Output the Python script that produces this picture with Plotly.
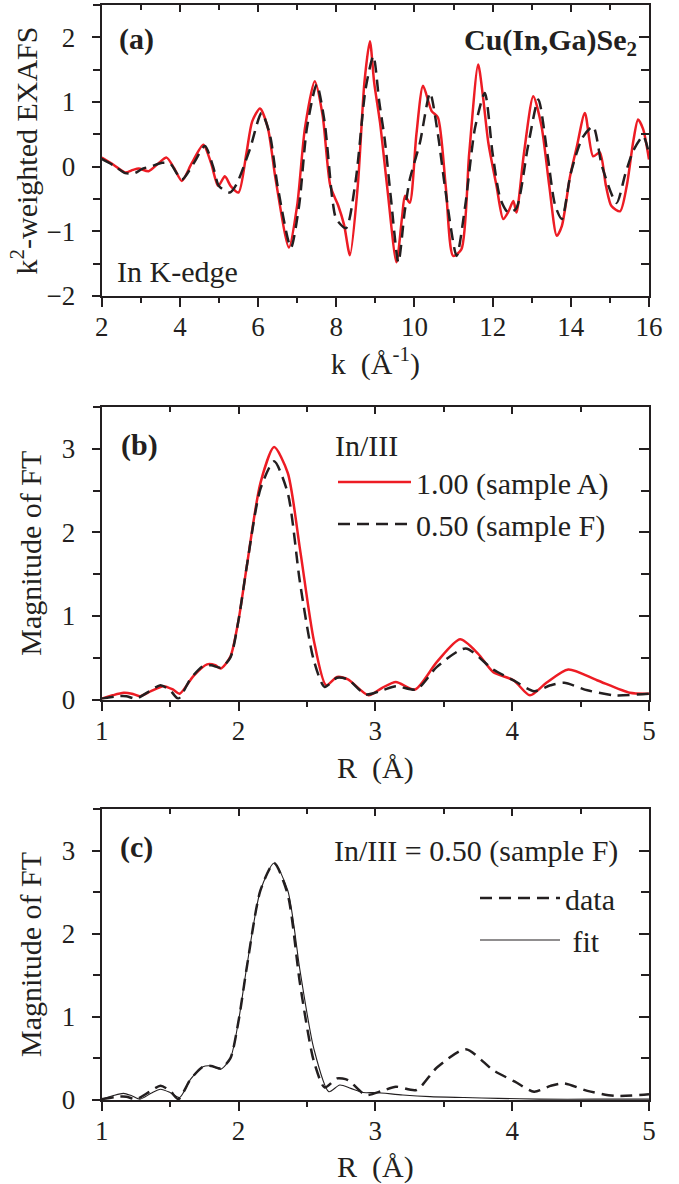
import plotly.graph_objects as go

# ---------------- data ----------------
# (a) k^2-weighted EXAFS, In K-edge
k_A = [2.0, 2.3, 2.6, 2.8, 2.95, 3.2, 3.45, 3.66, 3.85, 4.05, 4.3, 4.6, 4.8, 4.98, 5.15, 5.3, 5.5,
       5.7, 5.85, 6.05, 6.25, 6.45, 6.79, 7.0, 7.2, 7.45, 7.65, 7.85, 8.05, 8.2, 8.35, 8.55, 8.72,
       8.86, 8.97, 9.12, 9.3, 9.54, 9.68, 9.76, 9.88, 10.05, 10.22, 10.44, 10.6, 10.8, 10.99, 11.2,
       11.4, 11.63, 11.75, 11.89, 12.1, 12.27, 12.4, 12.53, 12.61, 12.8, 13.04, 13.25, 13.45, 13.64,
       13.77, 13.98, 14.15, 14.36, 14.57, 14.74, 14.9, 15.04, 15.26, 15.43, 15.6, 15.72, 15.85, 16.0]
chi_A = [0.14, 0.03, -0.09, -0.05, -0.03, -0.07, 0.05, 0.14, -0.02, -0.22, 0.05, 0.34, 0.05, -0.30,
         -0.15, -0.30, -0.40, 0.20, 0.70, 0.90, 0.60, -0.20, -1.25, -0.60, 0.60, 1.32, 0.80, -0.30,
         -0.60, -0.90, -1.37, -0.30, 1.30, 1.94, 1.30, 0.68, -0.30, -1.48, -0.80, -0.45, -0.56, 0.50,
         1.25, 0.86, 0.76, -0.30, -1.38, -1.28, 0.20, 1.58, 1.10, 0.37, -0.30, -0.81, -0.70, -0.53,
         -0.71, 0.20, 1.09, 0.63, -0.30, -1.07, -0.92, -0.15, 0.30, 0.83, 0.16, 0.22, -0.30, -0.61,
         -0.69, -0.30, 0.40, 0.73, 0.58, 0.11]

k_F = [2.0, 2.3, 2.6, 2.85, 3.05, 3.24, 3.55, 3.75, 4.05, 4.35, 4.64, 4.85, 5.0, 5.28, 5.45, 5.79,
       6.09, 6.3, 6.5, 6.84, 7.05, 7.25, 7.5, 7.7, 7.9, 8.0, 8.25, 8.5, 8.75, 8.95, 9.1, 9.24, 9.4,
       9.59, 9.75, 9.88, 10.14, 10.4, 10.6, 10.8, 11.08, 11.3, 11.55, 11.8, 12.0, 12.2, 12.4, 12.6,
       12.9, 13.17, 13.4, 13.6, 13.77, 14.0, 14.3, 14.57, 14.8, 15.17, 15.4, 15.6, 15.85, 16.0]
chi_F = [0.12, 0.02, -0.10, -0.10, -0.03, 0.0, 0.06, 0.05, -0.20, 0.05, 0.32, 0.0, -0.30, -0.40,
         -0.27, 0.27, 0.83, 0.50, -0.30, -1.25, -0.60, 0.60, 1.27, 0.70, -0.50, -0.81, -0.95, -0.20,
         1.20, 1.71, 1.00, 0.42, -0.50, -1.48, -0.70, -0.20, 0.37, 1.14, 0.50, -0.40, -1.38, -0.60,
         0.60, 1.14, 0.20, -0.50, -0.71, -0.65, 0.30, 1.04, 0.20, -0.60, -0.81, -0.10, 0.45, 0.62,
         0.0, -0.56, -0.10, 0.25, 0.47, 0.20]

# (b) magnitude of FT
R_A = [1.0, 1.08, 1.16, 1.22, 1.28, 1.36, 1.45, 1.52, 1.57, 1.67, 1.77, 1.83, 1.87, 1.94, 2.0, 2.06,
       2.16, 2.26, 2.36, 2.45, 2.55, 2.64, 2.72, 2.8, 2.95, 3.05, 3.15, 3.29, 3.45, 3.62, 3.75, 3.86,
       4.01, 4.13, 4.25, 4.41, 4.62, 4.86, 5.0]
ft_A = [0.01, 0.05, 0.08, 0.07, 0.04, 0.10, 0.16, 0.12, 0.07, 0.28, 0.42, 0.41, 0.37, 0.51, 0.95,
        1.59, 2.59, 3.02, 2.71, 1.79, 0.71, 0.17, 0.27, 0.24, 0.05, 0.14, 0.21, 0.12, 0.45, 0.72,
        0.55, 0.33, 0.23, 0.05, 0.20, 0.36, 0.23, 0.08, 0.07]

R_F = [1.0, 1.12, 1.18, 1.25, 1.35, 1.43, 1.5, 1.56, 1.65, 1.74, 1.8, 1.87, 1.94, 2.0, 2.06, 2.16,
       2.26, 2.36, 2.45, 2.55, 2.63, 2.72, 2.8, 2.93, 3.05, 3.15, 3.3, 3.45, 3.66, 3.86, 4.02, 4.16,
       4.28, 4.38, 4.55, 4.75, 5.0]
ft_F = [0.01, 0.04, 0.04, 0.01, 0.10, 0.17, 0.11, 0.01, 0.25, 0.40, 0.41, 0.38, 0.50, 0.95, 1.59,
        2.52, 2.85, 2.47, 1.39, 0.47, 0.15, 0.26, 0.24, 0.06, 0.11, 0.16, 0.12, 0.39, 0.61, 0.36,
        0.22, 0.10, 0.17, 0.20, 0.11, 0.05, 0.07]

# (c) fit for sample F
R_fit = [1.0, 1.08, 1.16, 1.22, 1.28, 1.36, 1.43, 1.5, 1.57, 1.65, 1.74, 1.8, 1.87, 1.94, 2.0, 2.06,
         2.16, 2.26, 2.36, 2.45, 2.55, 2.66, 2.74, 2.82, 2.91, 3.0, 3.2, 3.4, 3.65, 3.9, 4.2, 4.6, 5.0]
ft_fit = [0.01, 0.05, 0.08, 0.05, 0.01, 0.08, 0.13, 0.09, 0.03, 0.25, 0.40, 0.41, 0.37, 0.50, 0.95,
          1.60, 2.52, 2.85, 2.52, 1.55, 0.62, 0.10, 0.18, 0.14, 0.09, 0.09, 0.06, 0.04, 0.03, 0.02,
          0.01, 0.01, 0.01]

names_b = ["1.00 (sample A)", "0.50 (sample F)"]
names_c = ["data", "\u00a0fit"]

# ---------------- style ----------------
FONT = "'Times New Roman', 'Liberation Serif', Times, serif"
RED = "#ed1c24"
BLK = "#231f20"
W, H = 679, 1184
XD = [101.7 / W, 649.0 / W]
YD = {
    "a": [1 - 296.0 / H, 1 - 5.0 / H],
    "b": [1 - 699.5 / H, 1 - 407.0 / H],
    "c": [1 - 1100.0 / H, 1 - 809.0 / H],
}
DASH = "12px,7px"

fig = go.Figure()

spl = dict(shape="spline", smoothing=0.7)
fig.add_trace(go.Scatter(x=k_A, y=chi_A, mode="lines", line=dict(color=RED, width=2.5, **spl),
                         xaxis="x", yaxis="y", showlegend=False, hoverinfo="skip"))
fig.add_trace(go.Scatter(x=k_F, y=chi_F, mode="lines", line=dict(color=BLK, width=2.5, dash=DASH, **spl),
                         xaxis="x", yaxis="y", showlegend=False, hoverinfo="skip"))

fig.add_trace(go.Scatter(x=R_A, y=ft_A, mode="lines", name=names_b[0], legend="legend",
                         line=dict(color=RED, width=2.5, **spl), xaxis="x2", yaxis="y2", hoverinfo="skip"))
fig.add_trace(go.Scatter(x=R_F, y=ft_F, mode="lines", name=names_b[1], legend="legend",
                         line=dict(color=BLK, width=2.5, dash=DASH, **spl), xaxis="x2", yaxis="y2",
                         hoverinfo="skip"))

fig.add_trace(go.Scatter(x=R_F, y=ft_F, mode="lines", name=names_c[0], legend="legend2",
                         line=dict(color=BLK, width=2.5, dash=DASH, **spl), xaxis="x3", yaxis="y3",
                         hoverinfo="skip"))
fig.add_trace(go.Scatter(x=R_fit, y=ft_fit, mode="lines", name=names_c[1], legend="legend2",
                         line=dict(color=BLK, width=1.1, **spl), xaxis="x3", yaxis="y3", hoverinfo="skip"))

# dummy traces for the mirror (inside-tick) axes
for i in (4, 5, 6):
    fig.add_trace(go.Scatter(x=[None], y=[None], xaxis=f"x{i}", yaxis=f"y{i}", showlegend=False,
                             hoverinfo="skip"))

tickfont = dict(family=FONT, size=27, color=BLK)
titlefont = dict(family=FONT, size=30, color=BLK)


def base_axis(rng, dtick, tick0, mdtick, ticks, major_len, minor_len):
    return dict(range=rng, dtick=dtick, tick0=tick0, ticks=ticks, ticklen=major_len,
                tickwidth=1.5, tickcolor=BLK,
                minor=dict(dtick=mdtick, tick0=tick0, ticks=ticks, ticklen=minor_len,
                           tickwidth=1.5, tickcolor=BLK),
                showline=True, linewidth=2, linecolor=BLK, showgrid=False, zeroline=False,
                tickfont=tickfont, fixedrange=True, automargin=False)


panels = [
    ("", "a", [2, 16], 2, 2, 1, [-2, 2.5], 1, -2, 0.5,
     "k  (Å<sup>-1</sup>)", "k<sup>2</sup>-weighted EXAFS", 6, 0),
    ("2", "b", [1, 5], 1, 1, 0.5, [0, 3.5], 1, 0, 0.5, "R  (Å)", "Magnitude of FT", 12, 11),
    ("3", "c", [1, 5], 1, 1, 0.5, [0, 3.5], 1, 0, 0.5, "R  (Å)", "Magnitude of FT", 12, 11),
]
layout = {}
for idx, (s, p, xr, xdt, xt0, xm, yr, ydt, yt0, ym, xtitle, ytitle, xso, yso) in enumerate(panels):
    m = str(idx + 4)
    xa = base_axis(xr, xdt, xt0, xm, "outside", 9, 5)
    xa.update(domain=XD, anchor="y" + s, ticklabelstandoff=-3,
              title=dict(text=xtitle, font=titlefont, standoff=xso))
    ya = base_axis(yr, ydt, yt0, ym, "outside", 8, 7)
    ya.update(domain=YD[p], anchor="x" + s, ticklabelstandoff=11,
              title=dict(text=ytitle, font=titlefont, standoff=yso))
    xm_ax = base_axis(xr, xdt, xt0, xm, "inside", 7, 5)
    xm_ax.update(overlaying="x" + s, anchor="y" + s, side="top", showticklabels=False)
    ym_ax = base_axis(yr, ydt, yt0, ym, "inside", 10, 8)
    ym_ax.update(overlaying="y" + s, anchor="x" + s, side="right", showticklabels=False)
    layout["xaxis" + s] = xa
    layout["yaxis" + s] = ya
    layout["xaxis" + m] = xm_ax
    layout["yaxis" + m] = ym_ax

ann_font = dict(family=FONT, size=30, color=BLK)
annotations = [
    dict(text="<b>(a)</b>", x=2.38, y=1.97, xref="x", yref="y", xanchor="left", yanchor="middle",
         showarrow=False, font=ann_font),
    dict(text="<b>Cu(In,Ga)Se<sub>2</sub></b>", x=15.75, y=1.93, xref="x", yref="y", xanchor="right",
         yanchor="middle", showarrow=False, font=ann_font),
    dict(text="In K-edge", x=2.34, y=-1.62, xref="x", yref="y", xanchor="left", yanchor="middle",
         showarrow=False, font=ann_font),
    dict(text="<b>(b)</b>", x=1.13, y=3.04, xref="x2", yref="y2", xanchor="left", yanchor="middle",
         showarrow=False, font=ann_font),
    dict(text="<b>(c)</b>", x=1.12, y=3.04, xref="x3", yref="y3", xanchor="left", yanchor="middle",
         showarrow=False, font=ann_font),
    dict(text="In/III = 0.50 (sample F)", x=2.68, y=3.0, xref="x3", yref="y3", xanchor="left",
         yanchor="middle", showarrow=False, font=ann_font),
]

fig.update_layout(
    width=W, height=H, margin=dict(l=0, r=0, t=0, b=0),
    paper_bgcolor="white", plot_bgcolor="white",
    font=dict(family=FONT, color=BLK),
    annotations=annotations,
    legend=dict(x=333 / W, y=1 - 417 / H, xanchor="left", yanchor="top", bgcolor="rgba(0,0,0,0)",
                title=dict(text="In/III", font=ann_font), font=ann_font, itemwidth=73,
                tracegroupgap=0),
    legend2=dict(x=475 / W, y=1 - 872 / H, xanchor="left", yanchor="top", bgcolor="rgba(0,0,0,0)",
                 font=ann_font, itemwidth=80, tracegroupgap=0),
    **layout,
)

fig.write_html("out.html", config={"displayModeBar": False},
               post_script="document.body.style.margin='0';document.body.style.padding='0';")
